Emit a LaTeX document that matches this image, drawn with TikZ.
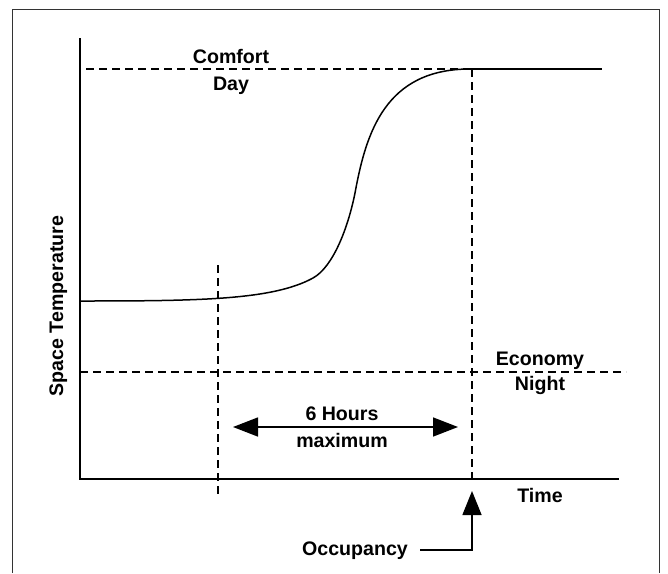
\documentclass[tikz,border=0pt]{standalone}
\usepackage{fontspec}
\setmainfont{Liberation Sans}
\usetikzlibrary{arrows.meta}

\begin{document}
\begin{tikzpicture}[x=1pt, y=-1pt,
    lbl/.style={font=\bfseries\fontsize{19.6}{23}\selectfont, inner sep=0pt, anchor=base},
    solid line/.style={line width=1.5pt},
    guide/.style={line width=1.3pt, dash pattern=on 8pt off 5pt},
    bigtip/.style={-{Triangle[length=24pt,width=19pt]}}]
    \useasboundingbox (0,0) rectangle (668,573);
    % frame
    \draw[gray!40!black, line width=1pt] (12,573) -- (12,9.5) -- (659,9.5) -- (659,573);
    % axes
    \coordinate (top) at (80,38);
    \coordinate (origin) at (80,479);
    \coordinate (xend) at (619,479);
    \draw[solid line] (top) -- (origin) -- (xend);
    % levels
    \coordinate (cstart) at (86,69);
    \coordinate (peak) at (470,69);
    \coordinate (cend) at (602,69);
    \coordinate (estart) at (80,372);
    \coordinate (eend) at (626,372);
    \draw[guide] (cstart) -- (peak);
    \draw[solid line] (peak) -- (cend);
    \draw[guide] (estart) -- (eend);
    % start and occupancy
    \coordinate (stop) at (218,265);
    \coordinate (sbot) at (218,498);
    \coordinate (otop) at (472,69);
    \coordinate (obot) at (472,480);
    \draw[guide] (stop) -- (sbot);
    \draw[guide] (otop) -- (obot);
    % space temperature
    \coordinate (night start) at (80,301);
    \draw[solid line] (night start) .. controls (200,301) and (273,300) .. (313,278)
        .. controls (333,267) and (348,228) .. (355,193)
        .. controls (366,133) and (385,69) .. (peak);
    % labels
    \node[lbl] (comfort) at (231,63) {Comfort};
    \node[lbl] (day) at (231,90) {Day};
    \node[lbl] (economy) at (540,365) {Economy};
    \node[lbl] (night) at (540,390) {Night};
    \node[lbl] (hours) at (342,420) {6 Hours};
    \node[lbl] (maximum) at (342,447) {maximum};
    \node[lbl] (time) at (540,502) {Time};
    \node[lbl, rotate=90] (temp) at (63,306) {Space Temperature};
    \node[lbl, inner xsep=12pt] (occupancy) at (355,555) {Occupancy};
    % six hours
    \coordinate (hleft) at (233,427);
    \coordinate (hright) at (458,427);
    \draw[solid line, {Triangle[length=25pt,width=19pt]}-{Triangle[length=25pt,width=19pt]}] (hleft) -- (hright);
    % occupancy arrow
    \coordinate (otip) at (472,491);
    \draw[solid line, bigtip] (occupancy.east) -| (otip);
\end{tikzpicture}
\end{document}
